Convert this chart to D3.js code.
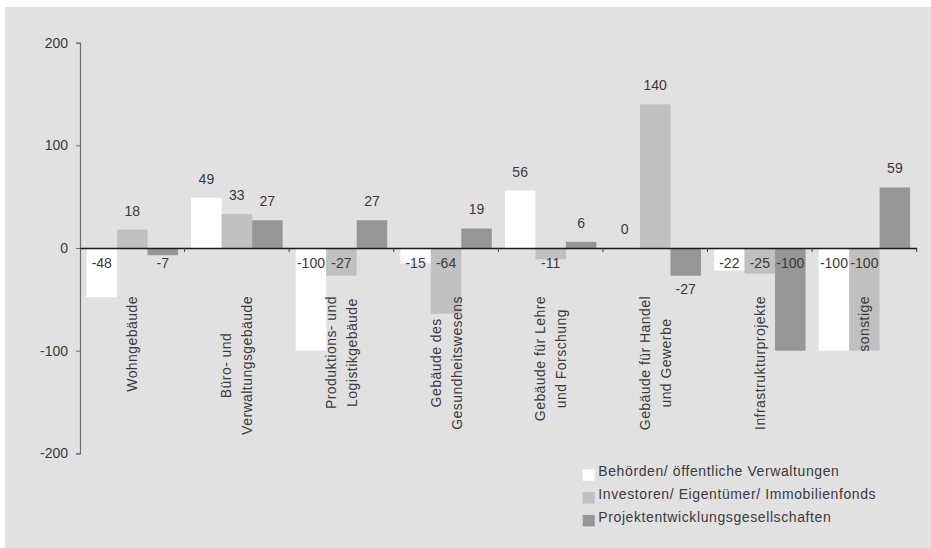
<!DOCTYPE html>
<html>
<head>
<meta charset="utf-8">
<script src="https://cdn.jsdelivr.net/npm/d3@7"></script>
<style>
  html, body { margin: 0; padding: 0; background: #ffffff; }
  svg { display: block; }
  text { font-family: "Liberation Sans", Arial, sans-serif; fill: #3a3a3a; }
</style>
</head>
<body>
<svg id="chart" width="931" height="548"></svg>
<script>
// ---------- data ----------
const categories = [
  "Wohngebäude",
  "Büro- und\nVerwaltungsgebäude",
  "Produktions- und\nLogistikgebäude",
  "Gebäude des\nGesundheitswesens",
  "Gebäude für Lehre\nund Forschung",
  "Gebäude für Handel\nund Gewerbe",
  "Infrastrukturprojekte",
  "sonstige"
];
const seriesNames = [
  "Behörden/ öffentliche Verwaltungen",
  "Investoren/ Eigentümer/ Immobilienfonds",
  "Projektentwicklungsgesellschaften"
];
const behoerden   = [-48, 49, -100, -15, 56, 0, -22, -100];
const investoren  = [18, 33, -27, -64, -11, 140, -25, -100];
const projektentw = [-7, 27, 27, 19, 6, -27, -100, 59];
const yTicks = [-200, -100, 0, 100, 200];
// labels drawn below the bar end instead of below the axis: [categoryIndex, seriesIndex]
const labelsBelowBar = [[5, 2]];

const seriesValues = [behoerden, investoren, projektentw];
const colors = ["#ffffff", "#c0c0c0", "#969696"];
const fmt = v => String(v);

// ---------- layout ----------
const svg = d3.select("#chart");
svg.append("rect").attr("x", 5).attr("y", 7).attr("width", 926).attr("height", 541).attr("fill", "#e1e1e1");

const y = d3.scaleLinear().domain([-200, 200]).range([453.3, 42.7]);
const x0 = d3.scaleBand().domain(d3.range(categories.length)).range([80, 916.7]).paddingInner(0).paddingOuter(0);
const x1 = d3.scaleBand().domain(d3.range(seriesNames.length)).range([0, x0.bandwidth()]).paddingInner(0).paddingOuter(0.215);

// y axis
const yAxis = d3.axisLeft(y).tickValues(yTicks).tickSize(4).tickFormat(fmt);
const gy = svg.append("g").attr("transform", "translate(80,0)").call(yAxis);
gy.select(".domain").attr("stroke", "#6e6e6e").attr("stroke-width", 1.2);
gy.selectAll(".tick line").attr("stroke", "#6e6e6e");
gy.selectAll(".tick text").attr("x", -12).attr("font-size", 14).attr("fill", "#3a3a3a")
  .style("font-family", '"Liberation Sans", Arial, sans-serif');

// bars
const rows = [];
categories.forEach((c, i) => seriesValues.forEach((vals, s) => rows.push({ i, s, v: vals[i] })));

svg.append("g").selectAll("rect").data(rows).join("rect")
  .attr("x", d => x0(d.i) + x1(d.s))
  .attr("width", x1.bandwidth())
  .attr("y", d => y(Math.max(0, d.v)))
  .attr("height", d => Math.abs(y(d.v) - y(0)))
  .attr("fill", d => colors[d.s]);

// zero axis with category ticks
const xAxis = d3.axisBottom(x0).tickValues([]).tickSize(0);
const gx = svg.append("g").attr("transform", `translate(0,${y(0)})`).call(xAxis);
gx.select(".domain").attr("stroke", "#1a1a1a").attr("stroke-width", 1.6);
const boundaries = d3.range(categories.length + 1).map(k => k < categories.length ? x0(k) : x0(k - 1) + x0.bandwidth());
gx.selectAll("line.sep").data(boundaries.slice(1)).join("line")
  .attr("class", "sep")
  .attr("x1", d => d).attr("x2", d => d)
  .attr("y1", 0).attr("y2", 4)
  .attr("stroke", "#3a3a3a").attr("stroke-width", 1);

// value labels
const isBelow = d => labelsBelowBar.some(p => p[0] === d.i && p[1] === d.s);
svg.append("g").selectAll("text").data(rows).join("text")
  .attr("x", d => x0(d.i) + x1(d.s) + x1.bandwidth() / 2)
  .attr("y", d => {
    if (d.v >= 0) return y(d.v) - 14;
    if (isBelow(d)) return y(d.v) + 18;
    return y(0) + 20;
  })
  .attr("text-anchor", "middle")
  .attr("font-size", 14)
  .text(d => fmt(d.v));

// category labels (rotated, block top-aligned, lines centered)
const labelTop = 296;
const lineGap = 21;
categories.forEach((c, i) => {
  const lines = c.split("\n");
  const cx = x0(i) + x0.bandwidth() / 2;
  const g = svg.append("g").attr("transform", `translate(${cx},${labelTop}) rotate(-90)`);
  const texts = lines.map((ln, k) => g.append("text")
    .attr("font-size", 14)
    .attr("letter-spacing", 0.45)
    .attr("text-anchor", "middle")
    .attr("y", 5 + (k - (lines.length - 1) / 2) * lineGap)
    .text(ln));
  const maxLen = d3.max(texts, t => t.node().getComputedTextLength());
  texts.forEach(t => t.attr("x", -maxLen / 2));
});

// legend
const legendX = 582.7, legendY = 469.3, legendStep = 22.8;
const lg = svg.append("g");
seriesNames.forEach((name, s) => {
  const ty = legendY + s * legendStep;
  lg.append("rect").attr("x", legendX).attr("y", ty).attr("width", 12).attr("height", 11.5).attr("fill", colors[s]);
  lg.append("text").attr("x", legendX + 15.6).attr("y", ty + 6.8)
    .attr("font-size", 14).attr("letter-spacing", 0.6).text(name);
});
</script>
</body>
</html>
